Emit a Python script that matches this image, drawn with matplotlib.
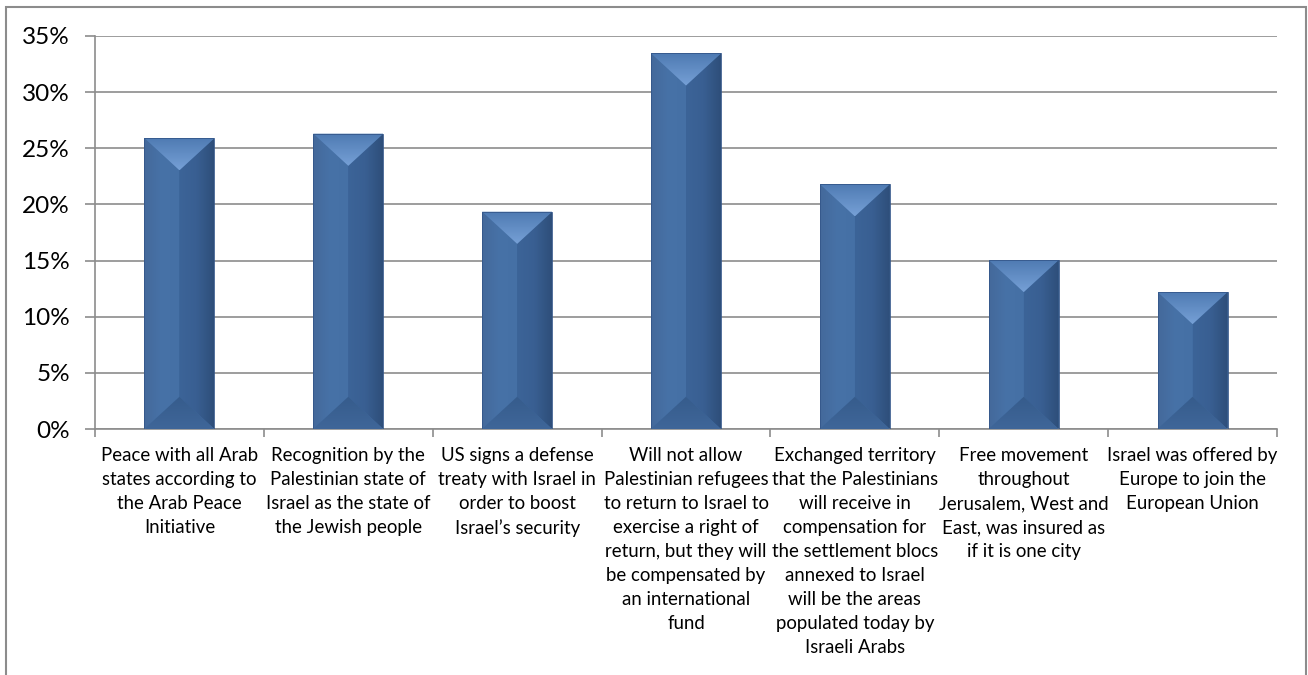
import numpy as np
import matplotlib
matplotlib.use("Agg")
import matplotlib.pyplot as plt
from matplotlib.patches import Polygon, Rectangle
from matplotlib.colors import LinearSegmentedColormap
from matplotlib.ticker import FuncFormatter

categories = [
    "Peace with all Arab\nstates according to\nthe Arab Peace\nInitiative",
    "Recognition by the\nPalestinian state of\nIsrael as the state of\nthe Jewish people",
    "US signs a defense\ntreaty with Israel in\norder to boost\nIsrael\u2019s security",
    "Will not allow\nPalestinian refugees\nto return to Israel to\nexercise a right of\nreturn, but they will\nbe compensated by\nan international\nfund",
    "Exchanged territory\nthat the Palestinians\nwill receive in\ncompensation for\nthe settlement blocs\nannexed to Israel\nwill be the areas\npopulated today by\nIsraeli Arabs",
    "Free movement\nthroughout\nJerusalem, West and\nEast, was insured as\nif it is one city",
    "Israel was offered by\nEurope to join the\nEuropean Union",
]
values = [25.9, 26.3, 19.35, 33.45, 21.8, 15.05, 12.2]
yticks = [0, 5, 10, 15, 20, 25, 30, 35]

W, H = 1308, 675
fig = plt.figure(figsize=(W / 100, H / 100), dpi=100)
fig.patch.set_facecolor("white")
ax = fig.add_axes([95 / W, 1 - 429 / H, (1277 - 95) / W, (429 - 36) / H])

x = np.arange(len(categories))
bw = 0.414
bars = ax.bar(x, values, width=bw, color="#3f6a9f", edgecolor="none", zorder=2)

ax.set_xlim(-0.5, len(categories) - 0.5)
ax.set_ylim(0, 35)
ax.set_yticks(yticks)
ax.yaxis.set_major_formatter(FuncFormatter(lambda v, p: f"{v:.0f}%"))
ax.grid(axis="y", color="#8c8c8c", linewidth=1.2, zorder=0)
ax.set_axisbelow(True)

for s in ["top", "right"]:
    ax.spines[s].set_visible(False)
for s in ["left", "bottom"]:
    ax.spines[s].set_color("#8c8c8c")
    ax.spines[s].set_linewidth(1.2)

ax.set_xticks(x)
ax.set_xticklabels(categories, family="Lato", fontsize=13.4, linespacing=1.5,
                   va="top", ha="center", color="#000000")
ax.tick_params(axis="x", which="major", length=0, pad=13)
ax.set_xticks(np.arange(-0.5, len(categories), 1.0), minor=True)
ax.tick_params(axis="x", which="minor", length=6, width=1.2, color="#8c8c8c", direction="out")
ax.tick_params(axis="y", length=7, width=1.2, color="#8c8c8c", pad=11, labelsize=17.5)
for t in ax.get_yticklabels():
    t.set_family("Lato")

# bevel depth in data units (45 degree facets)
fig.canvas.draw()
px_per_x = ax.transData.transform((1, 0))[0] - ax.transData.transform((0, 0))[0]
px_per_y = ax.transData.transform((0, 1))[1] - ax.transData.transform((0, 0))[1]
half_px = bw * px_per_x / 2
depth = half_px * 0.92 / px_per_y

def grad_fill(poly_pts, c0, c1, horizontal=True, z=3):
    poly = Polygon(poly_pts, closed=True, facecolor="none", edgecolor="none", zorder=z)
    ax.add_patch(poly)
    xs = [p[0] for p in poly_pts]
    ys = [p[1] for p in poly_pts]
    cmap = LinearSegmentedColormap.from_list("g", c0 if isinstance(c0, list) else [c0, c1])
    if horizontal:
        img = np.linspace(0, 1, 64).reshape(1, -1)
    else:
        img = np.linspace(1, 0, 64).reshape(-1, 1)
    im = ax.imshow(img, cmap=cmap, extent=[min(xs), max(xs), min(ys), max(ys)],
                   aspect="auto", zorder=z, interpolation="bilinear")
    im.set_clip_path(poly)

for xi, v in zip(x, values):
    x0, x1, xc = xi - bw / 2, xi + bw / 2, xi
    d = min(depth, v / 2)
    # left facet
    grad_fill([(x0, 0), (x0, v), (xc, v - d), (xc, d)], ["#44699b", "#4772a7", "#4570a5"], None)
    # right facet
    grad_fill([(xc, d), (xc, v - d), (x1, v), (x1, 0)], ["#3c6498", "#395f92", "#2e4e7a"], None)
    # top facet
    grad_fill([(x0, v), (x1, v), (xc, v - d)], "#76a0d6", "#4e7ab2", horizontal=False)
    # bottom facet
    grad_fill([(x0, 0), (xc, d), (x1, 0)], "#3f6699", "#365c8c", horizontal=False)
    ax.add_patch(Rectangle((x0, 0), bw, v, facecolor="none", edgecolor="#34578a",
                           linewidth=0.6, zorder=4))

# chart border
fig.add_artist(Rectangle((6 / W, -0.05), (1306 - 6) / W, 1.05 - 7 / H,
                         transform=fig.transFigure, facecolor="none",
                         edgecolor="#8c8c8c", linewidth=1.5))

fig.savefig("out.png", dpi=100, facecolor="white")
